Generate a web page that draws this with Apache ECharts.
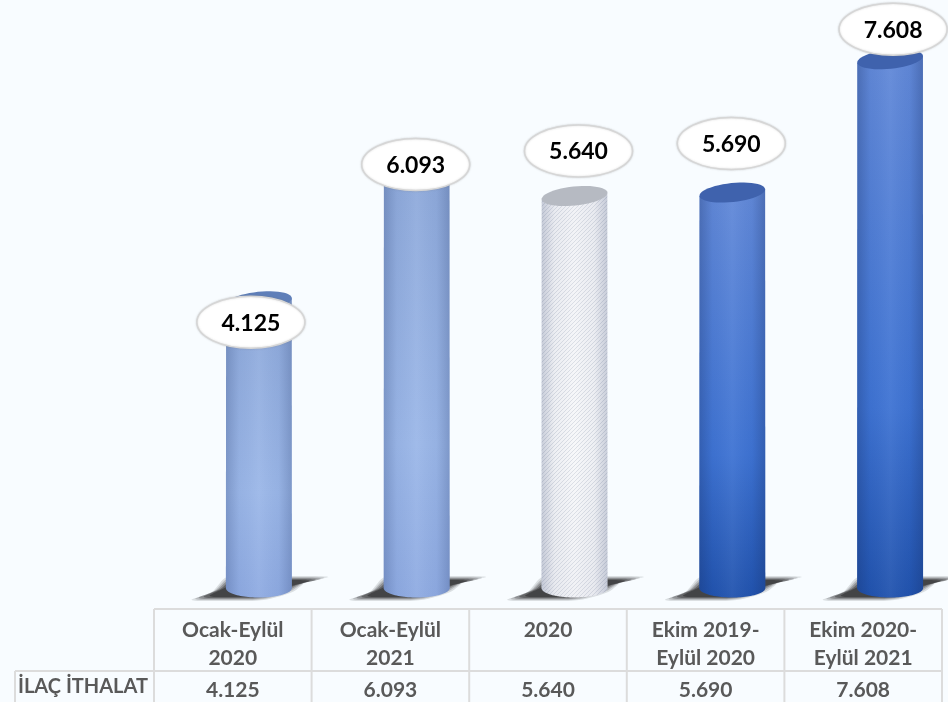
<!DOCTYPE html>
<html><head><meta charset="utf-8">
<style>html,body{margin:0;padding:0;background:#f8fcff}#c{width:948px;height:702px}</style>
<script src="https://cdn.jsdelivr.net/npm/echarts@6/dist/echarts.min.js"></script>
</head><body><div id="c"></div>
<script>
const categories = ['Ocak-Eylül\n2020','Ocak-Eylül\n2021','2020','Ekim 2019-\nEylül 2020','Ekim 2020-\nEylül 2021'];
const values = [4125,6093,5640,5690,7608];
const valueLabels = ['4.125','6.093','5.640','5.690','7.608'];
const rowTitle = 'İLAÇ İTHALAT';

const barStyles = ['light','light','white','deep','deep'];
const bubbleOffsets = [[-8,21],[-1,0],[4,-45],[-1,-49],[3,-30]];
const palettes = {
  light:{top:'#5f7fb9',stops:['#8ea9da','#9bb7e8','#8fabe2'],edge:0.22},
  white:{top:'#b6bac2',stops:['#f1f2f6','#f7f8fa','#f0f1f5'],edge:0.2},
  deep:{top:'#3f62ad',stops:['#6289d8','#3e73d3','#2153ae'],edge:0.28}
};
const hatch = document.createElement('canvas');
hatch.width = hatch.height = 4;
(function(){const g=hatch.getContext('2d');g.strokeStyle='rgba(170,178,195,.38)';g.lineWidth=1;
 g.beginPath();g.moveTo(-1,1);g.lineTo(1,-1);g.moveTo(0,4);g.lineTo(4,0);g.moveTo(3,5);g.lineTo(5,3);g.stroke();})();

function ell(cx,cy,rx,ry,deg,from,to){
  const a=deg*Math.PI/180,p=[],n=48;
  for(let i=0;i<=n;i++){const t=(from+(to-from)*i/n)*Math.PI/180;
    const x=rx*Math.cos(t),y=ry*Math.sin(t);
    p.push([cx+x*Math.cos(a)-y*Math.sin(a),cy+x*Math.sin(a)+y*Math.cos(a)]);}
  return p;
}
function cylinder(params,api){
  const i=params.dataIndex, v=api.value(1);
  const top=api.coord([i,v]), base=api.coord([i,0]);
  const x=top[0], rx=33, ry=9.5, tilt=-6;
  const pal=palettes[barStyles[i]];
  const body=[...ell(x,top[1],rx,ry,tilt,0,0),
              ...ell(x,base[1],rx,ry,0,0,180),...ell(x,top[1],rx,ry,tilt,180,180)];
  const s=(dx,dy)=>[x+dx,base[1]+dy];
  const outline=[[-60,9],[-42,1],[-28,-8],[30,-9],[46,-9],[62,-8],[44,-4],[30,1],[4,9],[-30,10]];
  const kids=[];
  [[1.12,3,0.14],[1.06,2,0.2],[1,1,0.3],[0.92,0,0.45],[0.82,-1,0.6]].forEach(function(l){
    kids.push({type:'polygon',shape:{points:outline.map(p=>s(p[0]*l[0],p[1]+Math.sign(p[1])*l[1])),smooth:0.3},
      style:{fill:'#2e2f31',opacity:l[2]}});
  });
  kids.push({type:'polygon',shape:{points:body},style:{fill:{type:'linear',x:0,y:0,x2:0,y2:1,colorStops:[
      {offset:0,color:pal.stops[0]},{offset:.65,color:pal.stops[1]},{offset:1,color:pal.stops[2]}]}}});
  if(barStyles[i]==='white') kids.push({type:'polygon',shape:{points:body},style:{fill:{image:hatch,repeat:'repeat'}}});
  kids.push({type:'polygon',shape:{points:body},style:{fill:{type:'linear',x:0,y:0,x2:1,y2:0,colorStops:[
      {offset:0,color:`rgba(20,40,90,${pal.edge})`},{offset:.2,color:'rgba(20,40,90,0.04)'},
      {offset:.5,color:'rgba(255,255,255,0.05)'},{offset:.8,color:'rgba(20,40,90,0.04)'},
      {offset:1,color:`rgba(20,40,90,${pal.edge})`}]}}});
  kids.push({type:'polygon',shape:{points:ell(x,top[1],rx,ry,tilt,0,360)},style:{fill:pal.top}});
  const off=bubbleOffsets[i], bx=x+off[0], by=top[1]+off[1];
  kids.push({type:'ellipse',shape:{cx:bx,cy:by,rx:54,ry:26},
    style:{fill:'#ffffff',stroke:'#d6d6d6',lineWidth:1.5,shadowBlur:2,shadowColor:'rgba(120,120,120,.3)'}});
  kids.push({type:'text',style:{x:bx,y:by+1,text:valueLabels[i],align:'center',verticalAlign:'middle',
    font:'bold 23px Lato',fill:'#000000'}});
  return {type:'group',children:kids};
}
const lineCol='#dcdcdc';
function hline(x1,x2,y){return {type:'line',shape:{x1,y1:y,x2,y2:y},style:{stroke:lineCol,lineWidth:2}};}
function vline(x,y1,y2){return {type:'line',shape:{x1:x,y1,x2:x,y2},style:{stroke:lineCol,lineWidth:2}};}
const tableLeft=154,tableW=788,tableTop=609,rowY=671,tableBottom=702,titleLeft=15;
const rules=[hline(tableLeft,tableLeft+tableW,tableTop),hline(titleLeft,tableLeft+tableW,rowY),vline(titleLeft,rowY,tableBottom)];
for(let k=0;k<=categories.length;k++) rules.push(vline(tableLeft+tableW*k/categories.length,tableTop,tableBottom));
rules.push({type:'text',x:83,y:687,style:{text:rowTitle,font:'bold 20px Lato',fill:'#595959',align:'center',verticalAlign:'middle'}});

const chart=echarts.init(document.getElementById('c'),null,{renderer:'canvas'});
const labelBase={color:'#595959',fontFamily:'Lato',fontWeight:'bold',fontSize:21,interval:0};
chart.setOption({
  animation:false,
  backgroundColor:'#f8fcff',
  grid:[{left:180,top:32,width:789,height:556,outerBoundsMode:'none'},
        {left:tableLeft,top:500,width:tableW,height:109,outerBoundsMode:'none'}],
  xAxis:[
    {type:'category',gridIndex:0,data:categories,show:false},
    {type:'category',gridIndex:1,data:categories,position:'bottom',axisLine:{show:false},axisTick:{show:false},
     axisLabel:{...labelBase,lineHeight:28,margin:7}},
    {type:'category',gridIndex:1,data:valueLabels,position:'bottom',offset:62,axisLine:{show:false},axisTick:{show:false},
     axisLabel:{...labelBase,margin:7,lineHeight:24}}
  ],
  yAxis:[{type:'value',gridIndex:0,min:0,max:8000,show:false},{type:'value',gridIndex:1,show:false}],
  series:[{type:'custom',xAxisIndex:0,yAxisIndex:0,clip:false,renderItem:cylinder,encode:{x:0,y:1},
    data:values.map((v,i)=>[i,v])}],
  graphic:rules
});
</script></body></html>
